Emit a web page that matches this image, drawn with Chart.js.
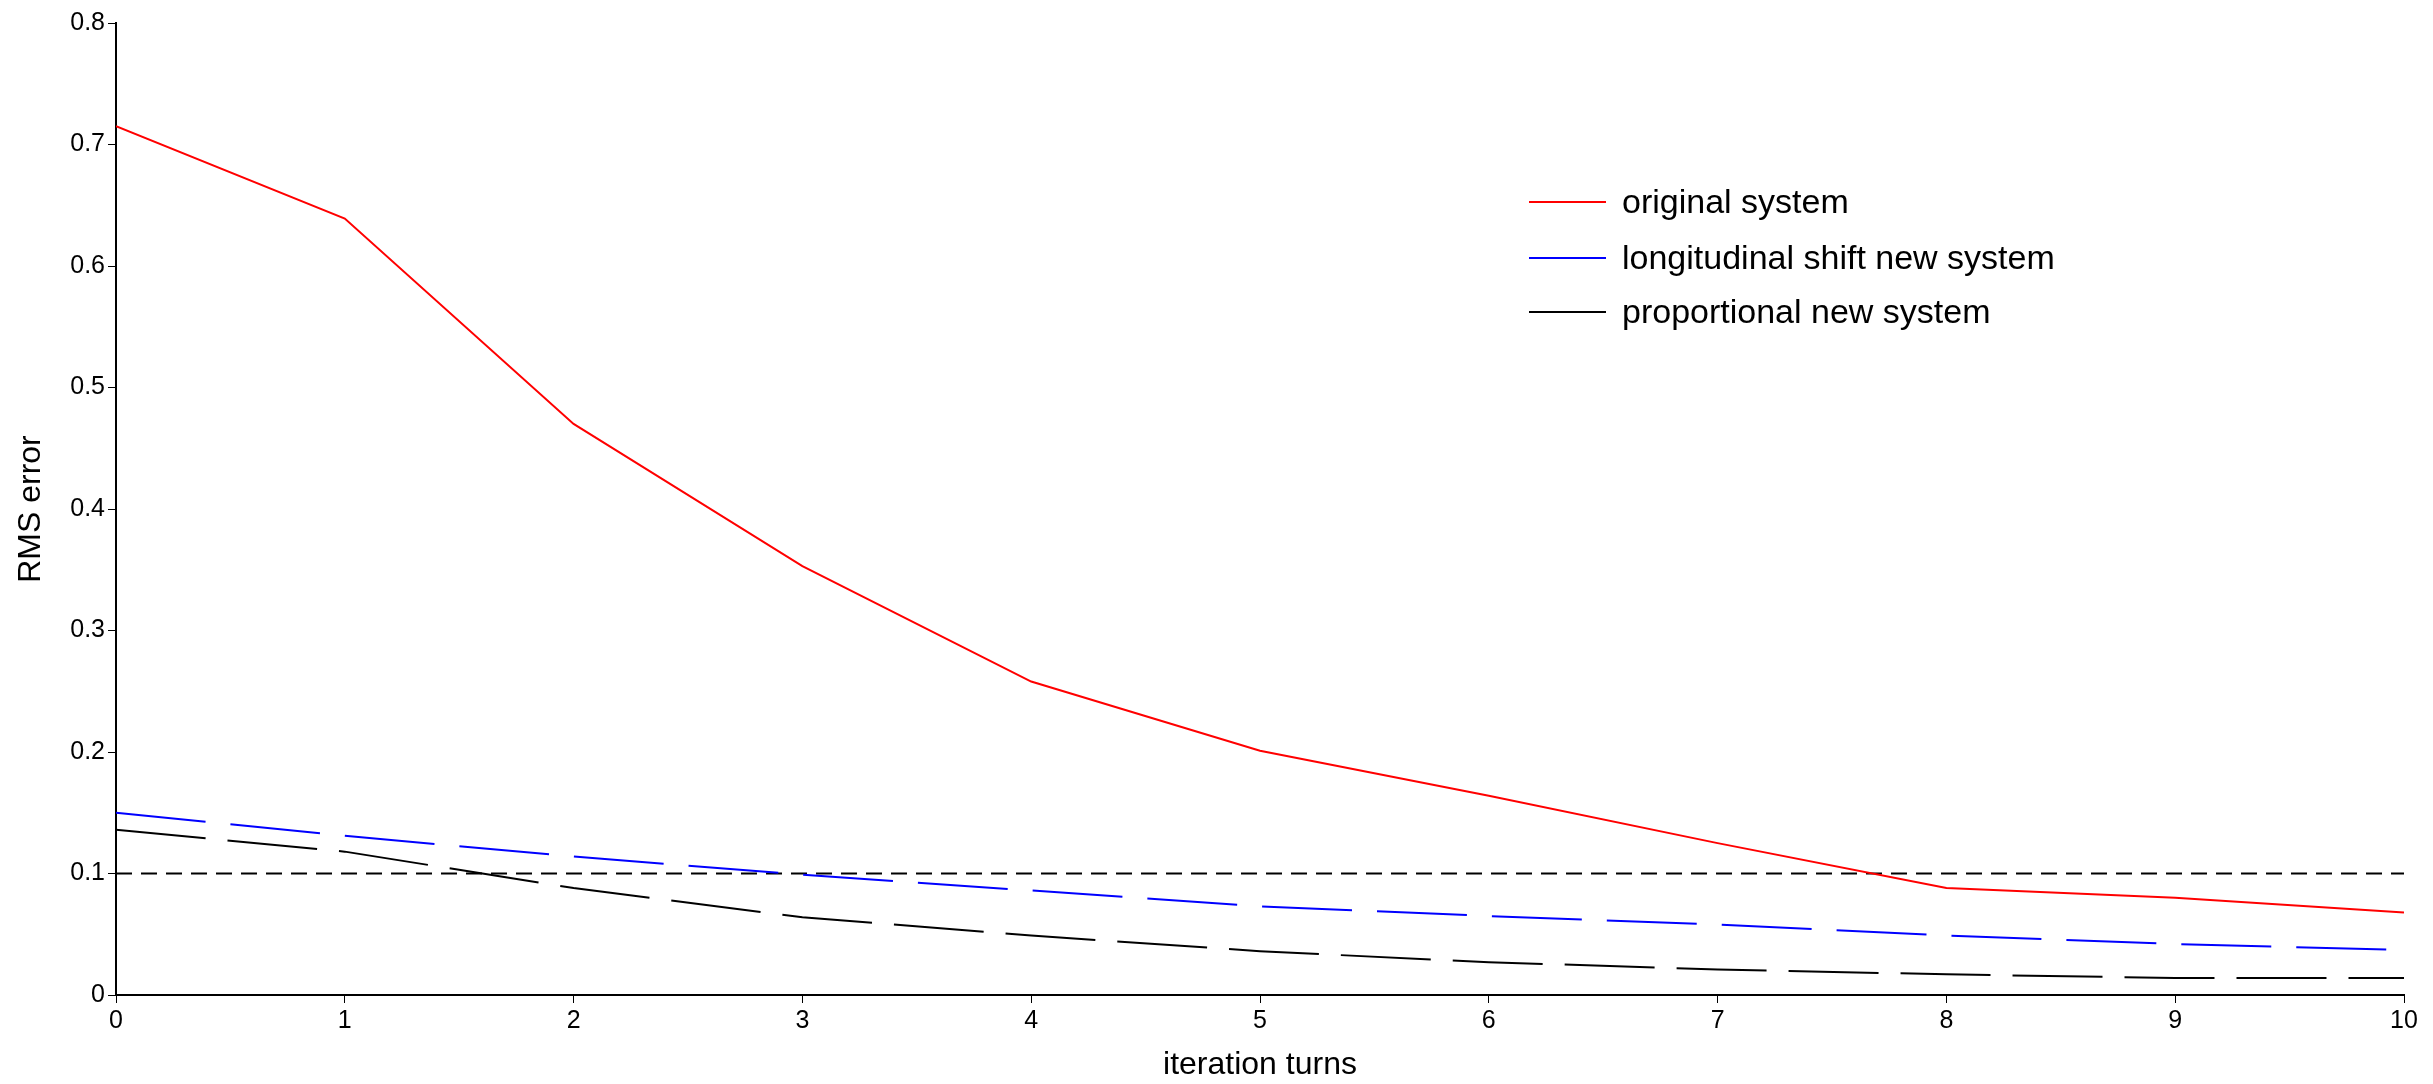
<!DOCTYPE html>
<html><head><meta charset="utf-8">
<script src="https://cdn.jsdelivr.net/npm/chart.js@4"></script>
<style>
body{margin:0;background:#fff;font-family:"Liberation Sans",Arial,sans-serif}
#wrap{position:relative;width:2433px;height:1084px}
.leg{position:absolute;left:1529px;font-size:34px;display:flex;align-items:center}
.leg span{display:inline-block;width:77px;height:0;border-top:2px solid;margin-right:16px}
</style></head><body>
<div id="wrap"><canvas id="c" width="2433" height="1084"></canvas>
<div class="leg" style="top:182px"><span style="border-color:#ff0000"></span>original system</div>
<div class="leg" style="top:238px"><span style="border-color:#0000ff"></span>longitudinal shift new system</div>
<div class="leg" style="top:292px"><span style="border-color:#000"></span>proportional new system</div>
</div>
<script>
const turns = [0,1,2,3,4,5,6,7,8,9,10];
const original = [0.715,0.639,0.470,0.353,0.258,0.201,0.164,0.125,0.088,0.080,0.068];
const longShift = [0.150,0.131,0.114,0.099,0.086,0.073,0.065,0.058,0.049,0.042,0.037];
const proportional = [0.136,0.118,0.088,0.064,0.049,0.036,0.027,0.021,0.017,0.014,0.014];
const threshold = turns.map(() => 0.1);

const pts = arr => arr.map((v, i) => ({x: turns[i], y: v}));
const line = (label, d, color, dash, w) => ({label, data: pts(d), borderColor: color, borderWidth: w,
  borderDash: dash, pointRadius: 0, fill: false, tension: 0});

new Chart(document.getElementById('c'), {
  type: 'line',
  data: {datasets: [
    line('original system', original, '#ff0000', [], 2),
    line('longitudinal shift new system', longShift, '#0000ff', [90, 25], 2),
    line('proportional new system', proportional, '#000', [90, 22], 2),
    line('threshold', threshold, '#000', [16, 9], 2)
  ]},
  options: {
    responsive: false, animation: false,
    layout: {padding: {top: 23, right: 29, left: 12, bottom: 0}},
    plugins: {legend: {display: false}, tooltip: {enabled: false}},
    scales: {
      x: {type: 'linear', min: 0, max: 10,
        ticks: {stepSize: 1, color: '#000', font: {size: 25}},
        grid: {drawOnChartArea: false, color: '#000', tickLength: 8},
        border: {color: '#000', width: 2},
        title: {display: true, text: 'iteration turns', color: '#000', font: {size: 32}, padding: 0},
        afterFit: s => { s.height = 89; }},
      y: {min: 0, max: 0.8,
        ticks: {stepSize: 0.1, color: '#000', font: {size: 25}, callback: v => v === 0 ? '0' : v.toFixed(1)},
        grid: {drawOnChartArea: false, color: '#000', tickLength: 8},
        border: {color: '#000', width: 2},
        title: {display: true, text: 'RMS error', color: '#000', font: {size: 32}, padding: 0},
        afterFit: s => { s.width = 104; }}
    }
  }
});
</script>
</body></html>
